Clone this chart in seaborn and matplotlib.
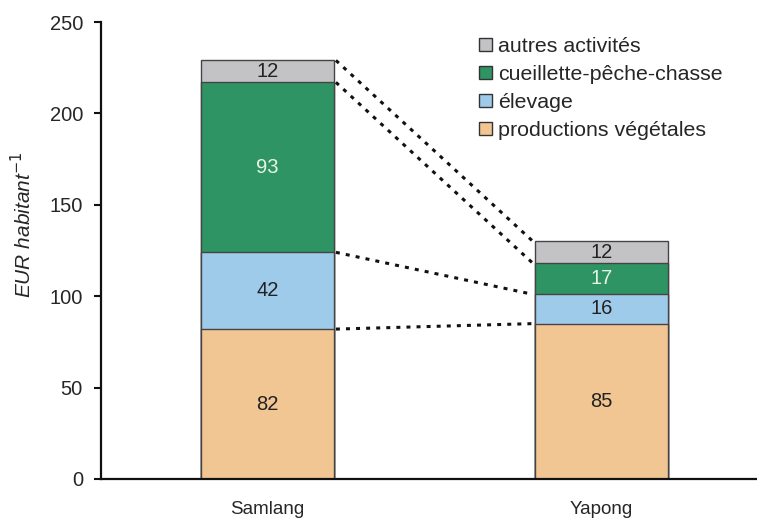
import numpy as np
import pandas as pd
import matplotlib
matplotlib.use("Agg")
import matplotlib.pyplot as plt
from matplotlib.patches import Patch
import seaborn as sns

villages = ["Samlang", "Yapong"]
categories = ["productions végétales", "élevage", "cueillette-pêche-chasse", "autres activités"]
productions = [82, 85]
elevage = [42, 16]
cueillette = [93, 17]
autres = [12, 12]
colors = ["#F2C693", "#9FCBEA", "#2F9464", "#C3C3C6"]
text_colors = ["#222222", "#222222", "#E8F5E6", "#222222"]

series = [productions, elevage, cueillette, autres]
cum = np.cumsum(np.array(series), axis=0)

sns.set_style("white")
plt.rcParams['font.family'] = ['Liberation Sans', 'DejaVu Sans']

fig = plt.figure(figsize=(7.57, 5.19), dpi=100)
ax = fig.add_axes([0.1334, 0.0771, 0.8666, 0.8805])

w = 0.4
for i in range(len(series) - 1, -1, -1):
    df = pd.DataFrame({"village": villages, "value": cum[i]})
    sns.barplot(data=df, x="village", y="value", color=colors[i], width=w,
                edgecolor="#444444", linewidth=1.0, saturation=1, ax=ax, zorder=2)

# labels
for i, s in enumerate(series):
    for j, v in enumerate(s):
        base = cum[i][j] - v
        ax.text(j, base + v / 2, f"{v}", ha="center", va="center",
                fontsize=14.5, color=text_colors[i], zorder=5)

# connecting dotted lines
for i in range(len(series)):
    ax.plot([0 + w / 2 + 0.005, 1 - w / 2 - 0.005], [cum[i][0], cum[i][1]],
            color="#111111", linestyle=(0, (1.3, 2.0)), linewidth=2.2, zorder=3)

ax.set_xlim(-0.4985, 1.466)
ax.set_ylim(0, 250)
ax.set_yticks([0, 50, 100, 150, 200, 250])
ax.set_xlabel("")
ax.set_ylabel("EUR habitant$^{-1}$", fontsize=15, style="italic")
ax.yaxis.set_label_coords(-0.1, 0.556)
ax.tick_params(axis="y", which="both", left=True, length=5, width=1.5, labelsize=14.5, pad=8, direction="out", color="#111111")
ax.tick_params(axis="x", length=0, labelsize=13.5, pad=16)
for s in ["top", "right"]:
    ax.spines[s].set_visible(False)
for s in ["left", "bottom"]:
    ax.spines[s].set_linewidth(1.6)
    ax.spines[s].set_color("#111111")

handles = [Patch(facecolor=colors[i], edgecolor="#333333", linewidth=1.0, label=categories[i])
           for i in range(len(categories) - 1, -1, -1)]
ax.legend(handles=handles, loc="upper left", bbox_to_anchor=(0.576, 0.967), frameon=False,
          fontsize=15.4, handlelength=0.6, handleheight=0.6, handletextpad=0.3,
          labelspacing=0.42, borderpad=0, borderaxespad=0)

fig.savefig("out.png", dpi=100)
